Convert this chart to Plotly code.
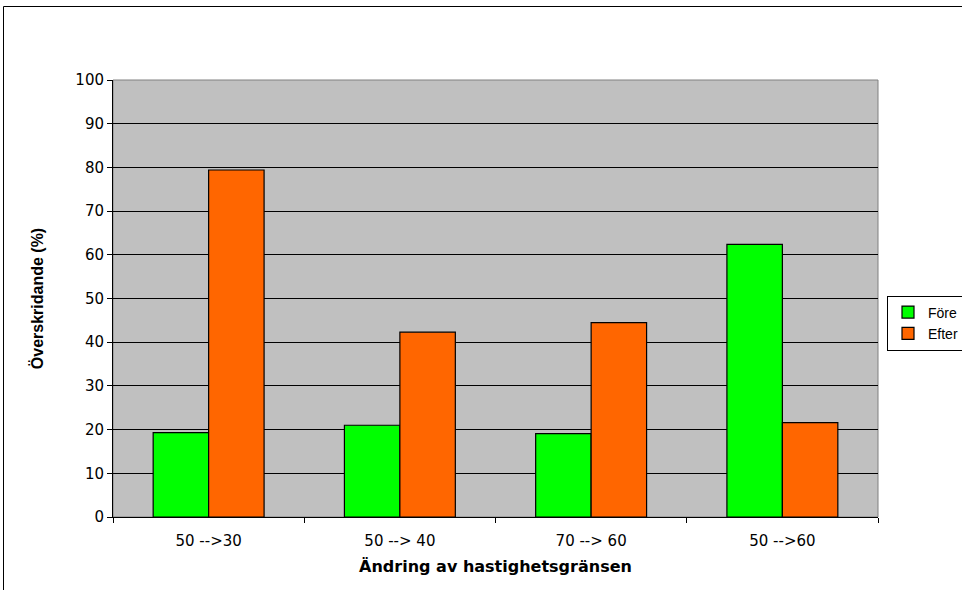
import plotly.graph_objects as go

categories = ["50 -->30", "50 --> 40", "70 --> 60", "50 -->60"]
fore = [19.3, 21.0, 19.1, 62.4]
efter = [79.4, 42.3, 44.5, 21.6]
y_ticks = [0, 10, 20, 30, 40, 50, 60, 70, 80, 90, 100]

fig = go.Figure()
fig.add_trace(go.Bar(name="Före", x=categories, y=fore,
                     marker=dict(color="#00FF00", line=dict(color="#000000", width=1.2))))
fig.add_trace(go.Bar(name="Efter", x=categories, y=efter,
                     marker=dict(color="#FF6600", line=dict(color="#000000", width=1.2))))

font = "DejaVu Sans, Liberation Sans, Arial, sans-serif"
W, H = 990, 590
L, T, B = 113, 80, 73
PW, PH = 765, 437
R = W - L - PW

fig.update_layout(
    width=W, height=H,
    autosize=False,
    margin=dict(l=L, r=R, t=T, b=B),
    paper_bgcolor="white",
    plot_bgcolor="#C0C0C0",
    barmode="group",
    bargap=0.42,
    bargroupgap=0,
    font=dict(family=font, size=15, color="black"),
    legend=dict(x=(887 - L) / PW, y=(517 - 323) / PH, xanchor="left", yanchor="middle",
                bgcolor="white", bordercolor="black", borderwidth=1,
                font=dict(size=14, family="Liberation Sans, Arial, sans-serif"),
                tracegroupgap=0, itemwidth=30),
    xaxis=dict(
        tickson="boundaries", ticks="outside", ticklen=5, tickcolor="black",
        showline=True, linecolor="black", linewidth=1, mirror=False,
        showgrid=False,
        ticklabelstandoff=10,
        title=dict(text="<b>Ändring av hastighetsgränsen</b>", font=dict(size=16), standoff=11),
        tickfont=dict(size=15),
    ),
    yaxis=dict(
        range=[0, 100], tickvals=y_ticks, ticks="outside", ticklen=5, tickcolor="black",
        showline=True, linecolor="black", linewidth=1,
        showgrid=True, gridcolor="black", gridwidth=1,
        zeroline=False,
        title=dict(text="<b>Överskridande (%)</b>",
                   font=dict(size=16, family="Liberation Sans Narrow, Liberation Sans, Arial"),
                   standoff=27),
        tickfont=dict(size=15),
    ),
    shapes=[
        dict(type="rect", xref="paper", yref="paper", x0=0, x1=1, y0=0, y1=1,
             line=dict(color="#808080", width=1), layer="below"),
        dict(type="rect", xref="paper", yref="paper",
             x0=(3.5 - L) / PW, x1=(W + 5 - L) / PW,
             y0=(517 - 600) / PH, y1=(517 - 6.5) / PH,
             line=dict(color="black", width=1)),
    ],
)
fig.write_html("out.html",
               config={"displayModeBar": False},
               post_script="document.body.style.margin='0';document.body.style.overflow='hidden';")
